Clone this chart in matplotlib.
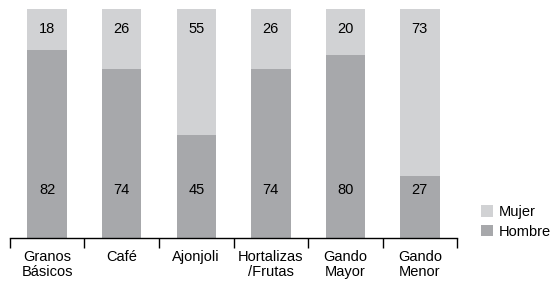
import matplotlib.pyplot as plt
import numpy as np

plt.rcParams['font.family'] = ['Liberation Sans', 'DejaVu Sans']

# Data
categories = ['Granos\nBásicos', 'Café', 'Ajonjoli', 'Hortalizas\n/Frutas', 'Gando\nMayor', 'Gando\nMenor']
hombre = [82, 74, 45, 74, 80, 27]
mujer = [18, 26, 55, 26, 20, 73]

color_hombre = '#a7a8ab'
color_mujer = '#d1d2d4'

fig = plt.figure(figsize=(5.54, 2.86), dpi=100)
ax = fig.add_axes([0.018, 0.168, 0.807, 0.80])

x = np.arange(len(categories))
width = 0.53
b1 = ax.bar(x, hombre, width, color=color_hombre, label='Hombre')
b2 = ax.bar(x, mujer, width, bottom=hombre, color=color_mujer, label='Mujer')

# Value labels at fixed heights
for i in range(len(categories)):
    ax.text(x[i], 21, str(hombre[i]), ha='center', va='center', fontsize=10.5)
    ax.text(x[i], 91.3, str(mujer[i]), ha='center', va='center', fontsize=10.5)

ax.set_xlim(-0.5, len(categories) - 0.5)
ax.set_ylim(0, 100)

# Ticks at category boundaries, labels underneath
ax.set_xticks(np.arange(-0.5, len(categories), 1.0))
ax.set_xticklabels([])
ax.tick_params(axis='x', direction='out', length=7, width=1, color='black')
ax.set_xticks(x, minor=True)
ax.set_xticklabels(categories, minor=True, fontsize=10.5, linespacing=1.05)
ax.tick_params(axis='x', which='minor', length=0, pad=9)
ax.set_yticks([])

for side in ['top', 'right', 'left']:
    ax.spines[side].set_visible(False)
ax.spines['bottom'].set_linewidth(1)

ax.legend([b2, b1], ['Mujer', 'Hombre'], loc='center left', bbox_to_anchor=(1.035, 0.07),
          frameon=False, fontsize=10.5, handlelength=0.8, handleheight=0.8,
          handletextpad=0.4, labelspacing=0.4, borderaxespad=0.2)

fig.savefig('out.png', dpi=100)
